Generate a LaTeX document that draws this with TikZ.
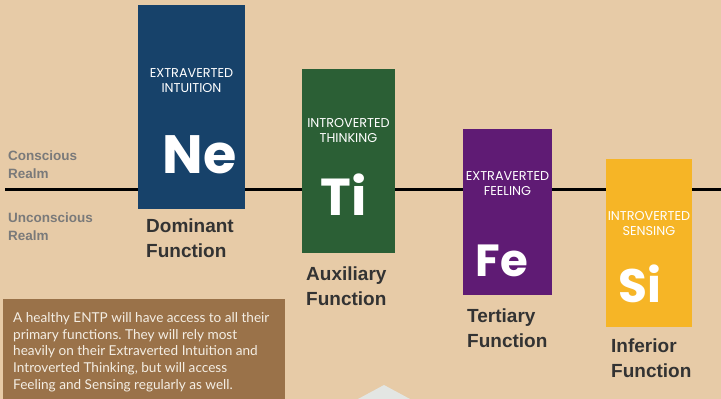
\documentclass[tikz,border=0pt]{standalone}
\usepackage{fontspec}
\setmainfont{Liberation Sans}
\newfontfamily\typefont{Poppins}
\newfontfamily\notefont{Lato}
\usetikzlibrary{positioning}
\frenchspacing

\definecolor{bgbeige}{HTML}{E7CBA7}
\definecolor{neblue}{HTML}{17426A}
\definecolor{tigreen}{HTML}{2B5F35}
\definecolor{fepurple}{HTML}{5F1B74}
\definecolor{siyellow}{HTML}{F6B526}
\definecolor{notebrown}{HTML}{9A7249}
\definecolor{labelgray}{HTML}{333333}
\definecolor{realmgray}{HTML}{7A7A7A}
\definecolor{notewhite}{HTML}{F4EEE4}
\definecolor{arrowgray}{HTML}{E3E6E3}

\begin{document}
\begin{tikzpicture}[x=1pt,y=-1pt,
    fnbox/.style={inner sep=0pt, minimum width=#1},
    fntype/.style={text=white, align=center, inner sep=0pt,
        font=\typefont\fontsize{12.8}{15}\selectfont},
    fnletter/.style={text=white, anchor=base, inner sep=0pt},
    fnlabel/.style={text=labelgray, align=left, anchor=north west, inner sep=0pt,
        font=\bfseries\fontsize{19}{25}\selectfont},
    realm/.style={text=realmgray, align=left, anchor=north west, inner sep=0pt,
        font=\bfseries\fontsize{13.5}{18}\selectfont}]
        \useasboundingbox (0,0) rectangle (721,399);
        \fill[bgbeige] (0,0) rectangle (721,399);

        % the line between both realms
        \coordinate (linestart) at (5,189);
        \coordinate (lineend) at (721,189);
        \draw[line width=3pt] (linestart) -- (lineend);

        \node[realm] (conscious) at (8,151) {Conscious\\Realm};
        \node[realm] (unconscious) at (8,213) {Unconscious\\Realm};

        % the four functions
        \node[fnbox=107pt, minimum height=204pt, fill=neblue] (ne) at (191.5,107) {};
        \node[fnbox=93pt, minimum height=184pt, fill=tigreen] (ti) at (348.5,161) {};
        \node[fnbox=89pt, minimum height=166pt, fill=fepurple] (fe) at (507.5,212) {};
        \node[fnbox=86pt, minimum height=168pt, fill=siyellow] (si) at (649,243) {};

        \node[fntype] (netype) at (191.5,80.5) {EXTRAVERTED\\INTUITION};
        \node[fntype] (titype) at (348.5,130.5) {INTROVERTED\\THINKING};
        \node[fntype] (fetype) at (507.5,183.5) {EXTRAVERTED\\FEELING};
        \node[fntype] (sitype) at (649,224) {INTROVERTED\\SENSING};

        \node[fnletter, font=\typefont\bfseries\fontsize{54}{54}\selectfont] (neletter) at (199.5,173) {Ne};
        \node[fnletter, font=\typefont\bfseries\fontsize{52}{52}\selectfont] (tiletter) at (343.5,215) {Ti};
        \node[fnletter, font=\typefont\bfseries\fontsize{45}{45}\selectfont] (feletter) at (502,276) {Fe};
        \node[fnletter, font=\typefont\bfseries\fontsize{47}{47}\selectfont] (siletter) at (640,302) {Si};

        \node[fnlabel] (nelabel) at (146,219) {Dominant\\Function};
        \node[fnlabel] (tilabel) at (306,267) {Auxiliary\\Function};
        \node[fnlabel] (felabel) at (467,309) {Tertiary\\Function};
        \node[fnlabel] (silabel) at (611,339) {Inferior\\Function};

        % note at the bottom left
        \fill[notebrown] (3,299) rectangle (285,405);
        \node[text=notewhite, anchor=north west, inner sep=0pt, align=left,
            font=\notefont\fontsize{13.6}{16.8}\selectfont] (note) at (13,312)
            {A healthy ENTP will have access to all their\\primary functions. They will rely most\\heavily on their Extraverted Intuition and\\Introverted Thinking, but will access\\Feeling and Sensing regularly as well.};

        \coordinate (tip) at (384,385);
        \fill[arrowgray] (tip) -- (358,399) -- (410,399) -- cycle;
    \end{tikzpicture}
\end{document}
